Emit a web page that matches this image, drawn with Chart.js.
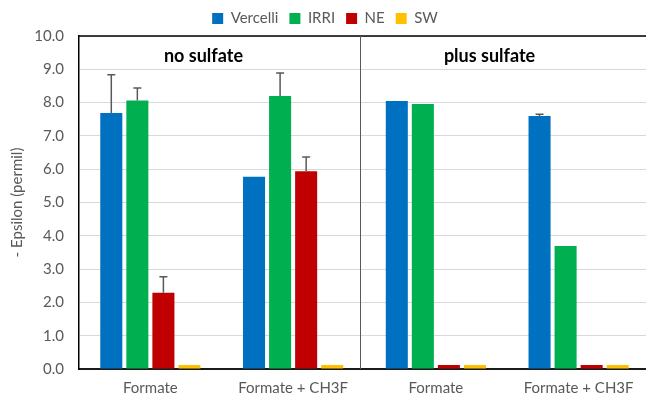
<!DOCTYPE html>
<html>
<head>
<meta charset="utf-8">
<script src="https://cdn.jsdelivr.net/npm/chart.js@4.4.1/dist/chart.umd.min.js"></script>
<style>
  html, body { margin: 0; padding: 0; background: #ffffff; overflow: hidden; }
  #wrap { width: 650px; height: 399px; position: relative; }
</style>
</head>
<body>
<div id="wrap"><canvas id="c"></canvas></div>
<script>
// Treatments along the x axis (left pair without sulfate, right pair with sulfate)
const categories = ['Formate', 'Formate + CH3F', 'Formate', 'Formate + CH3F'];

// - epsilon values (permil) per soil
const vercelli = [7.69, 5.77, 8.05, 7.60];
const irri     = [8.06, 8.20, 7.96, 3.69];
const ne       = [2.29, 5.94, 0.12, 0.12];
const sw       = [0.12, 0.12, 0.12, 0.12];

// Positive error bar lengths
const vercelliErr = [1.15, 0, 0, 0.05];
const irriErr     = [0.38, 0.69, 0, 0];
const neErr       = [0.48, 0.43, 0, 0];
const swErr       = [0, 0, 0, 0];

const yTicks = [0, 1, 2, 3, 4, 5, 6, 7, 8, 9, 10];

const FONT = 'Lato, "Open Sans", sans-serif';
const GREY_TEXT = '#595959';

// Whisker above each bar
const errorBars = {
  id: 'errorBars',
  afterDatasetsDraw(chart) {
    const ctx = chart.ctx;
    const y = chart.scales.y;
    ctx.save();
    ctx.strokeStyle = '#595959';
    ctx.lineWidth = 1.5;
    chart.data.datasets.forEach((ds, di) => {
      const meta = chart.getDatasetMeta(di);
      meta.data.forEach((bar, i) => {
        const e = ds.errPlus[i];
        if (!e) return;
        const top = y.getPixelForValue(ds.data[i] + e);
        ctx.beginPath();
        ctx.moveTo(bar.x, bar.y);
        ctx.lineTo(bar.x, top);
        ctx.moveTo(bar.x - 4, top);
        ctx.lineTo(bar.x + 4, top);
        ctx.stroke();
      });
    });
    ctx.restore();
  }
};

// Plot frame top edge, section divider and section headings
const sections = {
  id: 'sections',
  afterDraw(chart) {
    const { ctx, chartArea: a } = chart;
    const w = a.right - a.left;
    ctx.save();
    ctx.strokeStyle = '#000000';
    ctx.lineWidth = 1.5;
    ctx.beginPath();
    ctx.moveTo(a.left, a.top);
    ctx.lineTo(a.right, a.top);
    ctx.stroke();

    const dx = Math.round(a.left + w * 0.4926) + 0.5;
    ctx.strokeStyle = '#595959';
    ctx.lineWidth = 1;
    ctx.beginPath();
    ctx.moveTo(dx, a.top);
    ctx.lineTo(dx, a.bottom);
    ctx.stroke();

    ctx.fillStyle = '#000000';
    ctx.font = 'bold 18px ' + FONT;
    ctx.textAlign = 'center';
    ctx.textBaseline = 'middle';
    ctx.fillText('no sulfate', a.left + w * 0.218, a.top + 20);
    ctx.fillText('plus sulfate', a.left + w * 0.719, a.top + 20);
    ctx.restore();
  }
};

new Chart(document.getElementById('c'), {
  type: 'bar',
  data: {
    labels: categories,
    datasets: [
      { label: 'Vercelli', data: vercelli, errPlus: vercelliErr, backgroundColor: '#0070C0' },
      { label: 'IRRI',     data: irri,     errPlus: irriErr,     backgroundColor: '#00B050' },
      { label: 'NE',       data: ne,       errPlus: neErr,       backgroundColor: '#C00000' },
      { label: 'SW',       data: sw,       errPlus: swErr,       backgroundColor: '#FFC000' }
    ]
  },
  options: {
    responsive: true,
    maintainAspectRatio: false,
    animation: false,
    devicePixelRatio: 1,
    datasets: { bar: { categoryPercentage: 0.73, barPercentage: 0.846 } },
    layout: { padding: { left: 0, right: 0, top: 0, bottom: 0 } },
    plugins: {
      tooltip: { enabled: false },
      legend: {
        position: 'top',
        labels: {
          boxWidth: 11,
          boxHeight: 11,
          padding: 11,
          color: GREY_TEXT,
          font: { family: FONT, size: 15 }
        }
      }
    },
    scales: {
      x: {
        grid: { display: false, drawTicks: false },
        border: { color: '#1a1a1a', width: 2 },
        afterFit(scale) { scale.height = 30; },
        ticks: { color: GREY_TEXT, font: { family: FONT, size: 15 }, padding: 10, maxRotation: 0 }
      },
      y: {
        min: 0,
        max: 10,
        afterBuildTicks(scale) { scale.ticks = yTicks.map(v => ({ value: v })); },
        afterFit(scale) { scale.width = 79; },
        grid: { color: '#d9d9d9', lineWidth: 1, drawTicks: false },
        border: { color: '#000000', width: 1.5 },
        ticks: {
          color: GREY_TEXT,
          font: { family: FONT, size: 15 },
          padding: 15,
          callback: v => Number(v).toFixed(1)
        },
        title: {
          display: true,
          text: '- Epsilon (permil)',
          color: GREY_TEXT,
          font: { family: FONT, size: 15 },
          padding: { top: 8, bottom: 4 }
        }
      }
    }
  },
  plugins: [errorBars, sections]
});
</script>
</body>
</html>
